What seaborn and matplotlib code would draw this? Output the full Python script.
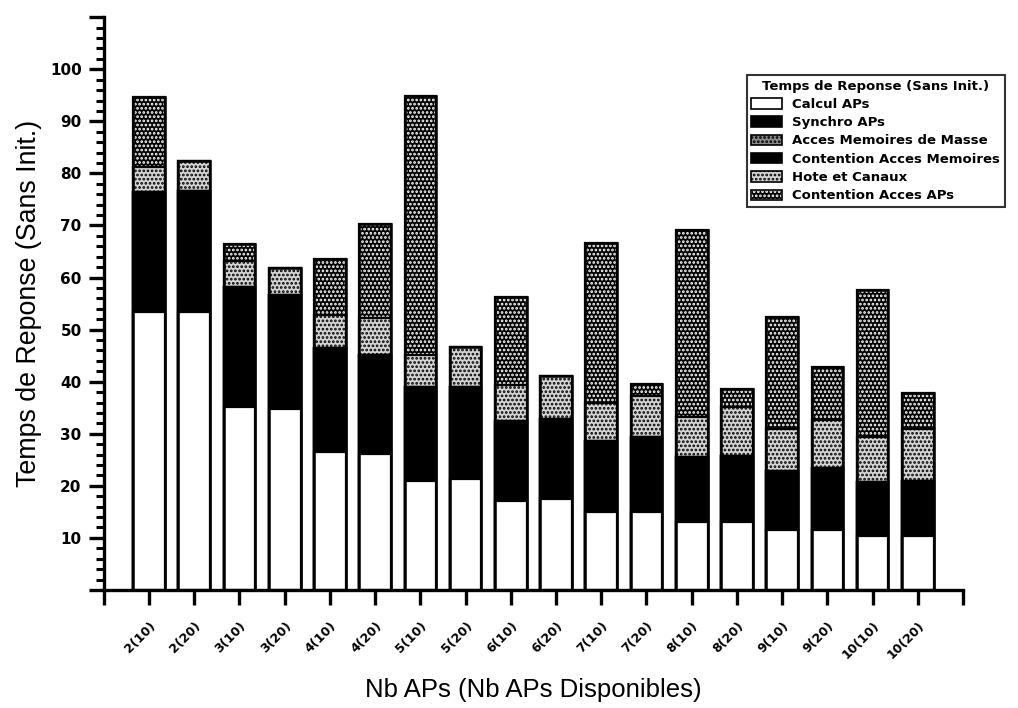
"""
Temps de reponse (sans init.) par nombre d'APs : barres empilees.
"""
import matplotlib
matplotlib.use("Agg")
import matplotlib.pyplot as plt
from matplotlib.patches import Patch
from matplotlib.legend_handler import HandlerTuple
from matplotlib.ticker import MultipleLocator
import numpy as np
import seaborn as sns

sns.set_theme(style="white")
plt.rcParams['font.family'] = ['Liberation Sans', 'DejaVu Sans']
plt.rcParams['hatch.linewidth'] = 1.3
for key in ['text.color', 'axes.labelcolor', 'xtick.color', 'ytick.color']:
    plt.rcParams[key] = 'black'

# Donnees
categories = ['2(10)', '2(20)', '3(10)', '3(20)', '4(10)', '4(20)', '5(10)', '5(20)', '6(10)',
              '6(20)', '7(10)', '7(20)', '8(10)', '8(20)', '9(10)', '9(20)', '10(10)', '10(20)']

calcul_aps = [53.3, 53.3, 35.2, 34.8, 26.5, 26.2, 21.0, 21.3, 17.1,
              17.4, 14.9, 15.0, 13.0, 13.1, 11.5, 11.6, 10.3, 10.3]
synchro_aps = [23.2, 23.4, 23.0, 21.9, 20.0, 19.0, 18.0, 17.7, 15.4,
               15.4, 13.8, 14.3, 12.5, 12.6, 11.4, 11.8, 10.4, 10.7]
acces_mem_masse = [0.0] * 18
contention_mem = [0.0] * 18
hote_canaux = [4.8, 5.6, 4.9, 5.2, 6.4, 7.0, 6.2, 7.7, 6.8,
               8.2, 7.2, 7.9, 7.7, 9.4, 8.1, 9.3, 8.7, 10.0]
contention_aps = [13.3, 0.0, 3.4, 0.0, 10.7, 18.1, 49.6, 0.0, 17.0,
                  0.0, 30.8, 2.3, 36.0, 3.5, 21.4, 10.2, 28.2, 6.9]

series_names = ['Calcul APs', 'Synchro APs', 'Acces Memoires de Masse',
                'Contention Acces Memoires', 'Hote et Canaux', 'Contention Acces APs']
series_values = [calcul_aps, synchro_aps, acces_mem_masse, contention_mem, hote_canaux, contention_aps]
# (facecolor, hatch, couleur des points) pour chaque serie
styles = [('white', None, 'black'), ('black', None, 'black'), ('#8a8a8a', '....', 'black'),
          ('black', None, 'black'), ('#d4d4d4', '....', 'black'), ('black', '....', 'white')]

fig = plt.figure(figsize=(10.18, 7.08), dpi=100)
ax = fig.add_axes([0.102, 0.1667, 0.844, 0.809])

# Barres cumulees, de la plus haute a la plus basse (chaque couche recouvre la precedente)
cumul = np.cumsum(np.array(series_values), axis=0)
for i in range(len(series_names) - 1, -1, -1):
    face, hatch, dots = styles[i]
    sns.barplot(x=categories, y=cumul[i], order=categories, color=face, saturation=1,
                edgecolor=dots, linewidth=1.6, hatch=hatch, width=0.7,
                errorbar=None, ax=ax)
    if dots != 'black':
        # contour noir par-dessus (la couleur du hachurage suit celle du bord)
        sns.barplot(x=categories, y=cumul[i], order=categories, color='black', fill=False,
                    linewidth=1.6, width=0.7, errorbar=None, ax=ax)

# Contour noir final du total
sns.barplot(x=categories, y=cumul[-1], order=categories, color='black', fill=False,
            linewidth=1.8, width=0.7, errorbar=None, ax=ax)

# Axes
ax.set_xlim(-1, 18)
ax.set_ylim(0, 110)
ax.set_xticks(range(-1, 19))
ax.set_xticklabels([''] + categories + [''], rotation=45, ha='right',
                   rotation_mode='anchor', fontsize=9, fontweight='bold',
                   family='DejaVu Sans')
ax.set_yticks(range(0, 111, 10))
ax.set_yticklabels(['' if v in (0, 110) else str(v) for v in range(0, 111, 10)],
                   fontsize=11, fontweight='bold', family='DejaVu Sans')
ax.yaxis.set_minor_locator(MultipleLocator(2))

ax.tick_params(axis='y', which='major', direction='out', length=11, width=2.4, pad=5, left=True)
ax.tick_params(axis='y', which='minor', direction='out', length=5.5, width=2.2, left=True)
ax.tick_params(axis='x', which='major', direction='out', length=11, width=2.4, pad=10, bottom=True)

for side in ['top', 'right']:
    ax.spines[side].set_visible(False)
for side in ['left', 'bottom']:
    ax.spines[side].set_linewidth(2.4)
    ax.spines[side].set_color('black')

ax.set_xlabel("Nb APs (Nb APs Disponibles)", fontsize=18.5)
ax.set_ylabel("Temps de Reponse (Sans Init.)", fontsize=19.3)
ax.xaxis.set_label_coords(0.5, -0.153)
ax.yaxis.set_label_coords(-0.072, 0.5)

# Legende
handles = []
for i in range(len(series_names)):
    face, hatch, dots = styles[i]
    if dots == 'black':
        handles.append(Patch(facecolor=face, edgecolor='black', hatch=hatch, linewidth=1.2))
    else:
        handles.append((Patch(facecolor=face, edgecolor=dots, hatch=hatch, linewidth=1.2),
                        Patch(facecolor='none', edgecolor='black', linewidth=1.2)))
leg = ax.legend(handles=handles, labels=series_names, title="Temps de Reponse (Sans Init.)",
                handler_map={tuple: HandlerTuple(ndivide=1, pad=0)},
                loc='upper right', bbox_to_anchor=(0.987, 0.894), bbox_transform=fig.transFigure,
                prop={'family': 'DejaVu Sans', 'weight': 'bold', 'size': 9.5},
                frameon=True, fancybox=False,
                handlelength=2.3, handleheight=0.85, labelspacing=0.4,
                borderpad=0.35, handletextpad=0.8, borderaxespad=0)
leg.get_frame().set_edgecolor('black')
leg.get_frame().set_linewidth(1.5)
leg.get_title().set_fontfamily('DejaVu Sans')
leg.get_title().set_fontweight('bold')
leg.get_title().set_fontsize(9.5)

fig.savefig("out.png", dpi=100, facecolor='white')
